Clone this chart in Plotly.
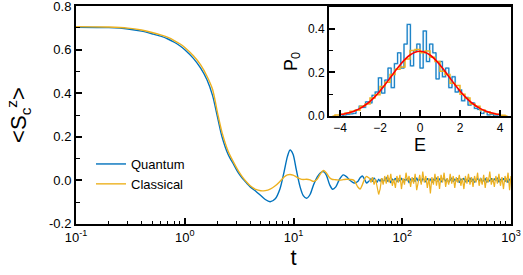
import plotly.graph_objects as go

# ---------------- main panel data ----------------
t_smooth = [0.1, 0.2, 0.3, 0.4, 0.5, 0.6, 0.7, 0.8, 0.9, 1.0,
            1.2, 1.4, 1.6, 1.8, 2.0, 2.2, 2.5, 2.8, 3.1, 3.4,
            3.7, 4.0, 4.5, 5.0, 5.5, 6.1, 6.8, 7.5, 8.2, 8.8,
            9.3, 9.9, 10.6, 11.5, 12.3, 13.2, 14.2, 15.3, 16.5, 17.7,
            18.8, 20, 21.5, 22.9, 24.5, 26.5, 28.7, 31, 33, 36,
            39, 41, 43, 45, 47, 49, 50]
quantum_smooth = [0.703, 0.701, 0.695, 0.685, 0.673, 0.662, 0.649, 0.634, 0.618, 0.600,
                  0.560, 0.515, 0.462, 0.39, 0.29, 0.20, 0.12, 0.075, 0.035, 0.008,
                  -0.012, -0.03, -0.05, -0.07, -0.088, -0.098, -0.085, -0.04, 0.04, 0.11,
                  0.139, 0.12, 0.05, -0.03, -0.07, -0.082, -0.065, -0.02, 0.015, 0.035,
                  0.04, 0.025, -0.02, -0.041, -0.03, 0.005, 0.025, 0.015, 0.0, -0.012,
                  -0.005, 0.012, 0.02, 0.005, -0.012, -0.005, -0.002]
classical_smooth = [0.706, 0.704, 0.699, 0.690, 0.679, 0.668, 0.656, 0.642, 0.627, 0.610,
                    0.572, 0.530, 0.478, 0.418, 0.31, 0.22, 0.135, 0.085, 0.045, 0.015,
                    -0.008, -0.025, -0.042, -0.048, -0.047, -0.04, -0.025, -0.005, 0.015, 0.025,
                    0.027, 0.024, 0.016, 0.007, 0.004, 0.005, 0.002, -0.005, 0.005, 0.03,
                    0.045, 0.035, 0.012, 0.004, 0.003, 0.001, 0.003, 0.005, 0.004, 0.0,
                    -0.03, -0.04, -0.02, 0.005, 0.018, 0.012, 0.01]

t_noise = [50, 51.6, 53.3, 55.1, 56.9, 58.7, 60.7, 62.6, 64.7, 66.8,
           69.0, 71.3, 73.6, 76.0, 78.5, 81.1, 83.7, 86.5, 89.3, 92.2,
           95.3, 98.4, 101.6, 104.9, 108.4, 111.9, 115.6, 119.4, 123.3, 127.3,
           131.5, 135.8, 140.3, 144.9, 149.6, 154.5, 159.6, 164.8, 170.2, 175.8,
           181.6, 187.5, 193.7, 200.0, 206.6, 213.3, 220.3, 227.6, 235.0, 242.7,
           250.7, 258.9, 267.4, 276.1, 285.2, 294.5, 304.2, 314.2, 324.5, 335.1,
           346.1, 357.4, 369.1, 381.2, 393.7, 406.6, 420.0, 433.7, 447.9, 462.6,
           477.8, 493.4, 509.6, 526.3, 543.6, 561.4, 579.8, 598.8, 618.4, 638.7,
           659.6, 681.2, 703.6, 726.6, 750.5, 775.1, 800.5, 826.8, 853.9, 881.9,
           910.8, 940.7, 971.5, 1000]
quantum_noise = [-0.002, 0.008, -0.006, 0.012, 0.002, -0.01, 0.006, -0.004, 0.01, -0.008,
                 0.004, 0.012, -0.006, 0.008, -0.012, 0.005, 0.0, 0.01, -0.008, 0.006,
                 -0.003, 0.011, -0.009, 0.004, 0.0, 0.01, -0.012, 0.006, -0.002, 0.009,
                 -0.007, 0.012, -0.004, 0.006, -0.01, 0.008, 0.002, -0.008, 0.01, -0.004,
                 0.007, -0.011, 0.005, 0.0, 0.012, -0.006, 0.008, -0.009, 0.004, 0.01,
                 -0.005, 0.007, -0.01, 0.003, 0.011, -0.007, 0.005, -0.002, 0.009, -0.011,
                 0.006, 0.0, 0.01, -0.008, 0.004, -0.004, 0.012, -0.006, 0.007, -0.01,
                 0.003, 0.009, -0.005, 0.011, -0.008, 0.002, 0.008, -0.01, 0.005, -0.003,
                 0.01, -0.007, 0.006, 0.0, 0.012, -0.009, 0.004, -0.002, 0.009, -0.006,
                 0.007, -0.011, 0.005, 0.002]
classical_noise = [0.01, -0.01, 0.015, -0.02, 0.005, -0.03, -0.065, -0.04, 0.01, -0.02,
                   0.02, -0.015, 0.025, -0.01, 0.03, -0.025, 0.005, -0.035, 0.02, -0.01,
                   0.025, -0.04, 0.01, -0.02, 0.035, -0.005, 0.02, -0.03, 0.015, -0.015,
                   0.03, -0.045, 0.0, 0.025, -0.02, 0.04, -0.01, 0.02, -0.035, 0.01,
                   -0.06, 0.015, -0.02, 0.03, -0.025, 0.02, -0.04, 0.025, -0.01, 0.035,
                   -0.03, 0.01, -0.02, 0.03, -0.015, 0.02, -0.035, 0.015, -0.01, 0.025,
                   -0.025, 0.01, -0.04, 0.02, -0.015, 0.03, -0.02, 0.015, -0.03, 0.02,
                   -0.01, 0.035, -0.025, 0.01, -0.02, 0.025, -0.035, 0.015, -0.01, 0.04,
                   -0.02, 0.01, -0.03, 0.02, -0.015, 0.03, -0.025, 0.015, -0.04, 0.02,
                   -0.01, 0.035, -0.045, 0.02]

x_tickvals = [0.1, 1, 10, 100, 1000]
x_ticktext = ["10<sup>-1</sup>", "10<sup>0</sup>", "10<sup>1</sup>", "10<sup>2</sup>", "10<sup>3</sup>"]
y_tickvals = [-0.2, 0.0, 0.2, 0.4, 0.6, 0.8]
y_ticktext = ["-0.2", "0.0", "0.2", "0.4", "0.6", "0.8"]

# ---------------- inset data ----------------
E_blue = [-3.92, -3.76, -3.60, -3.44, -3.28, -3.12, -2.96, -2.80, -2.64, -2.48,
          -2.32, -2.16, -2.00, -1.84, -1.68, -1.52, -1.36, -1.20, -1.04, -0.88,
          -0.72, -0.56, -0.40, -0.24, -0.08, 0.08, 0.24, 0.40, 0.56, 0.72,
          0.88, 1.04, 1.20, 1.36, 1.52, 1.68, 1.84, 2.00, 2.16, 2.32,
          2.48, 2.64, 2.80, 2.96, 3.12, 3.28, 3.44, 3.60, 3.76, 3.92]
P_quantum = [0.0, 0.005, 0.008, 0.010, 0.012, 0.028, 0.045, 0.04, 0.065, 0.06,
             0.095, 0.11, 0.175, 0.105, 0.165, 0.22, 0.13, 0.24, 0.29, 0.22,
             0.33, 0.42, 0.23, 0.30, 0.33, 0.22, 0.39, 0.25, 0.33, 0.29,
             0.17, 0.25, 0.18, 0.22, 0.13, 0.18, 0.11, 0.12, 0.07, 0.085,
             0.05, 0.06, 0.035, 0.03, 0.012, 0.02, 0.005, 0.008, 0.0, 0.0]
E_orange = [-4.375, -4.125, -3.875, -3.625, -3.375, -3.125, -2.875, -2.625, -2.375, -2.125,
            -1.875, -1.625, -1.375, -1.125, -0.875, -0.625, -0.375, -0.125, 0.125, 0.375,
            0.625, 0.875, 1.125, 1.375, 1.625, 1.875, 2.125, 2.375, 2.625, 2.875,
            3.125, 3.375, 3.625, 3.875, 4.125, 4.375]
P_classical = [0.0, 0.005, 0.008, 0.014, 0.022, 0.026, 0.045, 0.055, 0.082, 0.098,
               0.135, 0.155, 0.19, 0.215, 0.225, 0.262, 0.30, 0.305, 0.29, 0.298,
               0.27, 0.25, 0.205, 0.19, 0.15, 0.14, 0.10, 0.082, 0.055, 0.045,
               0.028, 0.02, 0.012, 0.008, 0.004, 0.0]
E_fit = [-4.0, -3.75, -3.5, -3.25, -3.0, -2.75, -2.5, -2.25, -2.0, -1.75,
         -1.5, -1.25, -1.0, -0.75, -0.5, -0.25, 0.0, 0.25, 0.5, 0.75,
         1.0, 1.25, 1.5, 1.75, 2.0, 2.25, 2.5, 2.75, 3.0, 3.25,
         3.5, 3.75, 4.0]
P_fit = [0.0066, 0.0105, 0.0161, 0.0241, 0.0349, 0.0492, 0.0672, 0.0891, 0.1147, 0.1434,
         0.1739, 0.2048, 0.2342, 0.2598, 0.2799, 0.2926, 0.297, 0.2926, 0.2799, 0.2598,
         0.2342, 0.2048, 0.1739, 0.1434, 0.1147, 0.0891, 0.0672, 0.0492, 0.0349, 0.0241,
         0.0161, 0.0105, 0.0066]
inset_xticks = [-4, -2, 0, 2, 4]
inset_yticks = [0.0, 0.2, 0.4]
inset_yticktext = ["0.0", "0.2", "0.4"]

BLUE = "#0072BD"
ORANGE = "#EDB120"
FONT = "Liberation Sans, Arial, Helvetica, sans-serif"

fig = go.Figure()

# main curves
fig.add_trace(go.Scatter(x=t_smooth, y=quantum_smooth, mode="lines", name="Quantum",
                         legendgroup="q", line=dict(color=BLUE, width=1.4, shape="spline", smoothing=0.8),
                         xaxis="x", yaxis="y"))
fig.add_trace(go.Scatter(x=t_noise, y=quantum_noise, mode="lines", name="Quantum",
                         legendgroup="q", showlegend=False, line=dict(color=BLUE, width=1.2),
                         xaxis="x", yaxis="y"))
fig.add_trace(go.Scatter(x=t_smooth, y=classical_smooth, mode="lines", name="Classical",
                         legendgroup="c", line=dict(color=ORANGE, width=1.4, shape="spline", smoothing=0.8),
                         xaxis="x", yaxis="y"))
fig.add_trace(go.Scatter(x=t_noise, y=classical_noise, mode="lines", name="Classical",
                         legendgroup="c", showlegend=False, line=dict(color=ORANGE, width=1.2),
                         xaxis="x", yaxis="y"))

# inset
fig.add_trace(go.Scatter(x=E_blue, y=P_quantum, mode="lines", showlegend=False,
                         line=dict(color="#9ACBEC", width=1.8, shape="hvh"), xaxis="x2", yaxis="y2"))
fig.add_trace(go.Scatter(x=E_blue, y=P_quantum, mode="lines", showlegend=False,
                         line=dict(color=BLUE, width=0.9, shape="hvh"), xaxis="x2", yaxis="y2"))
fig.add_trace(go.Scatter(x=E_orange, y=P_classical, mode="lines", showlegend=False,
                         line=dict(color=ORANGE, width=1.5, shape="hvh"), xaxis="x2", yaxis="y2"))
fig.add_trace(go.Scatter(x=E_fit, y=P_fit, mode="lines", showlegend=False,
                         line=dict(color="#FF0000", width=1.6, shape="spline"), xaxis="x2", yaxis="y2"))

minor_log = [m * 10 ** e for e in range(-1, 3) for m in range(2, 10)]

axis_common = dict(showline=True, linecolor="black", linewidth=2, mirror=True,
                   ticks="inside", tickcolor="black", tickwidth=1.5, showgrid=False,
                   zeroline=False, tickfont=dict(family=FONT, size=13, color="black"),
                   automargin=False, ticklabeloverflow="allow")

fig.update_layout(
    width=523, height=275,
    margin=dict(l=0, r=0, t=0, b=0),
    paper_bgcolor="white", plot_bgcolor="white",
    font=dict(family=FONT, size=13, color="black"),
    showlegend=True,
    legend=dict(x=91 / 523, y=1 - 149 / 275, xanchor="left", yanchor="top",
                bgcolor="rgba(0,0,0,0)", borderwidth=0,
                font=dict(family=FONT, size=13, color="black"),
                tracegroupgap=0, itemwidth=30),
    xaxis=dict(type="log", range=[-1.0005, 3.0005], domain=[76 / 523, 511 / 523], anchor="y",
               tickvals=x_tickvals, ticktext=x_ticktext, ticklen=6,
               minor=dict(tickvals=minor_log, ticks="inside", ticklen=3, tickcolor="black", tickwidth=1.2),
               title=dict(text="t", font=dict(family=FONT, size=22, color="black"), standoff=2),
               **axis_common),
    yaxis=dict(range=[-0.2005, 0.8005], domain=[51 / 275, 269 / 275], anchor="x",
               tickvals=y_tickvals, ticktext=y_ticktext, ticklen=6,
               minor=dict(dtick=0.1, ticks="inside", ticklen=4, tickcolor="black", tickwidth=1.2),
               title=dict(text="&lt;S<sub>c</sub><sup>z</sup>&gt;",
                          font=dict(family=FONT, size=22, color="black"), standoff=16),
               **axis_common),
    xaxis2=dict(range=[-4.55, 4.55], domain=[329 / 523, 511 / 523], anchor="y2",
                tickvals=inset_xticks, ticklen=6,
                minor=dict(dtick=1, ticks="inside", ticklen=4, tickcolor="black", tickwidth=1.2),
                title=dict(text="E", font=dict(family=FONT, size=18, color="black"), standoff=2),
                **{**axis_common, "tickfont": dict(family=FONT, size=12, color="black")}),
    yaxis2=dict(range=[0, 0.5], domain=[159 / 275, 268 / 275], anchor="x2",
                tickvals=inset_yticks, ticktext=inset_yticktext, ticklen=6,
                minor=dict(dtick=0.1, ticks="inside", ticklen=4, tickcolor="black", tickwidth=1.2),
                title=dict(text="P<sub>0</sub>", font=dict(family=FONT, size=18, color="black"), standoff=6),
                **{**axis_common, "tickfont": dict(family=FONT, size=12, color="black")}),
)

fig.write_html("out.html", config={"displayModeBar": False},
               post_script="document.body.style.margin='0px';")
